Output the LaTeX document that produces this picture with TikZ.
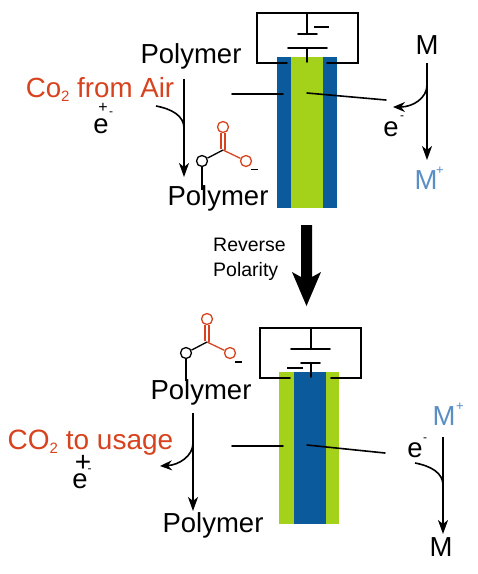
\documentclass[tikz,border=0pt]{standalone}
\usepackage{fontspec}
\setmainfont{Liberation Sans}
\usetikzlibrary{arrows.meta}
\definecolor{cblue}{HTML}{0A5A9C}
\definecolor{cgreen}{HTML}{A4D21A}
\definecolor{corange}{HTML}{D8431F}
\definecolor{mblue}{HTML}{5A8FC4}
\newcommand{\fsz}[1]{\fontsize{#1}{#1}\selectfont}
\newcommand{\subtwo}{\raisebox{-4.5pt}{\fsz{15}2}}
\tikzset{
 lbl/.style={anchor=base,inner sep=0pt,outer sep=0pt,font=\fsz{27.5}},
 org/.style={lbl,text=corange},
 small/.style={anchor=center,inner sep=0pt,font=\fsz{16}},
 wire/.style={line width=1.6pt,line cap=round},
 arr/.style={line width=1.6pt,-{Stealth[length=14pt,width=10pt,inset=4pt]}},
 barr/.style={line width=1.6pt,-{Stealth[length=12pt,width=10pt,inset=4pt]}},
 hook/.style={line width=1.6pt},
 atom/.style={circle,draw,line width=1.3pt,minimum size=11pt,inner sep=0pt,fill=none},
 bond/.style={line width=1.3pt},
}
\begin{document}
\begin{tikzpicture}[x=1pt,y=-1pt]
\useasboundingbox (0,0) rectangle (478,574);
\fill[white] (0,0) rectangle (478,574);
% upper cell
\fill[cblue] (277,57) rectangle (337,208);
\fill[cgreen] (291,57) rectangle (323,208);
\coordinate (a1) at (287,63);
\coordinate (a2) at (257,63);
\coordinate (a3) at (257,13);
\coordinate (a4) at (358,13);
\coordinate (a5) at (358,63);
\coordinate (a6) at (327,63);
\draw[wire] (a1) -- (a2) -- (a3) -- (a4) -- (a5) -- (a6);
\draw[wire] (307,13) -- (307,34);
\draw[wire] (298,34) -- (317,34);
\draw[line width=2.2pt] (314,27) -- (329,27);
\draw[wire] (288,48) -- (327,48);
\draw[wire] (307,48) -- (307,62);
\draw[wire] (232,94) -- (283,94);
\draw[wire] (307,93) -- (386,100);
% upper labels
\node[lbl] (p1) at (191,63) {Polymer};
\node[lbl] (p2) at (218,205) {Polymer};
\node[org,font=\fsz{27.7}] (co1) at (100,97) {Co\subtwo{} from Air};
\node[lbl] (e1) at (101,133) {e};
\node[small] (ep1) at (103,108) {+};
\node[small,font=\fsz{12}] (em1) at (111,114) {-};
\node[lbl] (m1) at (427,54) {M};
\node[lbl] (e2) at (391,136) {e};
\node[small,font=\fsz{12}] (em2) at (402,118) {-};
\node[lbl,text=mblue] (mp1) at (426,189) {M};
\node[small,text=mblue,font=\fsz{13}] (mpp1) at (440,171) {+};
% upper arrows
\coordinate (s1) at (184,79);
\coordinate (t1) at (184,177);
\draw[arr] (s1) -- (t1);
\coordinate (c1) at (156,106);
\coordinate (c2) at (184,128);
\draw[hook] (c1) .. controls (172,109) and (184,116) .. (c2);
\coordinate (s2) at (427,63);
\coordinate (t2) at (427,160);
\draw[arr] (s2) -- (t2);
\coordinate (c3) at (427,85);
\coordinate (c4) at (393,107);
\draw[barr] (c3) .. controls (427,98) and (413,107) .. (c4);
% upper carbonate
\node[atom] (o1) at (202,161) {};
\node[atom,draw=corange] (o2) at (223,127) {};
\node[atom,draw=corange] (o3) at (246,161) {};
\coordinate (cc1) at (223,150);
\draw[bond] (o1) -- (cc1);
\draw[bond,corange] (cc1) -- (o3);
\draw[bond,corange] (221,149) -- (221,133);
\draw[bond,corange] (225,150) -- (225,133);
\draw[line width=1.8pt] (250.5,169.5) -- (257.5,169.5);
\coordinate (v1) at (202,190);
\draw[bond] (o1) -- (v1);
% big arrow
\node[anchor=base west,inner sep=0pt,font=\fsz{19.5}] (r1) at (213,251) {Reverse};
\node[anchor=base west,inner sep=0pt,font=\fsz{19.5}] (r2) at (213,276) {Polarity};
\fill[black] (301,225) -- (312,225) -- (312,277) -- (321,272) -- (306.5,306) -- (292,272) -- (301,277) -- cycle;
% lower cell
\fill[cgreen] (279,372) rectangle (339,524);
\fill[cblue] (294,372) rectangle (326,524);
\coordinate (b1) at (290,378);
\coordinate (b2) at (260,378);
\coordinate (b3) at (260,328);
\coordinate (b4) at (361,328);
\coordinate (b5) at (361,378);
\coordinate (b6) at (331,378);
\draw[wire] (b1) -- (b2) -- (b3) -- (b4) -- (b5) -- (b6);
\draw[wire] (311,328) -- (311,349);
\draw[wire] (291,349) -- (330,349);
\draw[wire] (301,363) -- (320,363);
\draw[wire] (311,363) -- (311,377);
\draw[line width=2.2pt] (287,368) -- (303,368);
\draw[wire] (232,446) -- (283,446);
\draw[wire] (307,445) -- (385,453);
% lower labels
\node[lbl] (p3) at (201,399) {Polymer};
\node[lbl] (p4) at (213,532) {Polymer};
\node[org,font=\fsz{28}] (co2) at (90.5,449) {CO\subtwo{} to usage};
\node[lbl] (e3) at (80,488) {e};
\node[small,font=\fsz{28}] (ep3) at (83,463) {+};
\node[small,font=\fsz{12}] (em3) at (89.5,471) {-};
\node[lbl,text=mblue] (mp2) at (444,425) {M};
\node[small,text=mblue,font=\fsz{13}] (mpp2) at (460,407) {+};
\node[lbl] (e4) at (415,457) {e};
\node[small,font=\fsz{12}] (em4) at (425,440) {-};
\node[lbl] (m2) at (441,556) {M};
% lower arrows
\coordinate (s3) at (193,413);
\coordinate (t3) at (193,511);
\draw[arr] (s3) -- (t3);
\coordinate (c5) at (193,443);
\coordinate (c6) at (160,466);
\draw[barr] (c5) .. controls (193,456) and (179,465) .. (c6);
\coordinate (s4) at (443,437);
\coordinate (t4) at (443,534);
\draw[arr] (s4) -- (t4);
\coordinate (c7) at (415,463);
\coordinate (c8) at (443,485);
\draw[hook] (c7) .. controls (431,466) and (443,473) .. (c8);
% lower carbonate
\node[atom] (o4) at (186,353) {};
\node[atom,draw=corange] (o5) at (207,319) {};
\node[atom,draw=corange] (o6) at (230,353) {};
\coordinate (cc2) at (207,342);
\draw[bond] (o4) -- (cc2);
\draw[bond,corange] (cc2) -- (o6);
\draw[bond,corange] (205,341) -- (205,325);
\draw[bond,corange] (209,342) -- (209,325);
\draw[line width=1.8pt] (234.5,362) -- (241.5,362);
\coordinate (v2) at (186,381);
\draw[bond] (o4) -- (v2);
\end{tikzpicture}
\end{document}
